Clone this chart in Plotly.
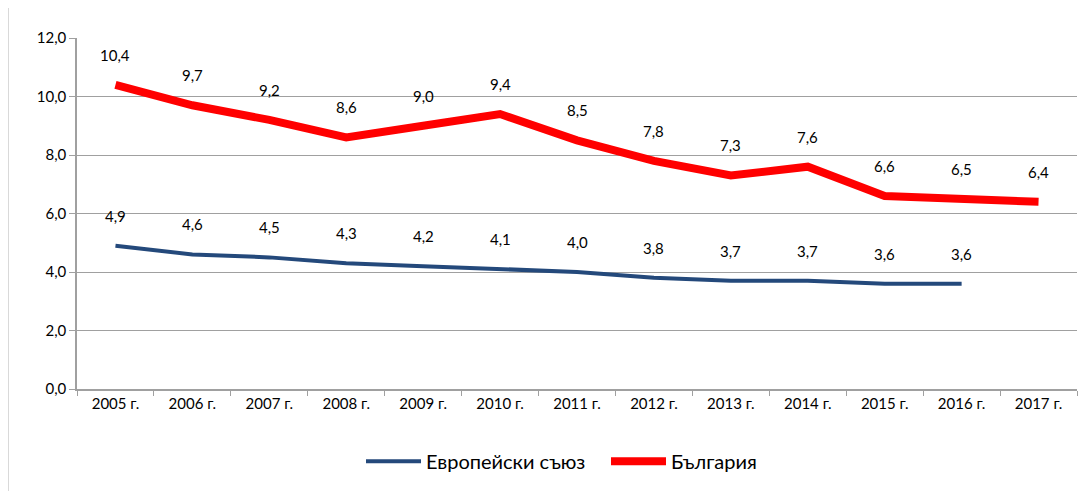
import plotly.graph_objects as go

years = ["2005 г.", "2006 г.", "2007 г.", "2008 г.", "2009 г.", "2010 г.", "2011 г.",
         "2012 г.", "2013 г.", "2014 г.", "2015 г.", "2016 г.", "2017 г."]
eu = [4.9, 4.6, 4.5, 4.3, 4.2, 4.1, 4.0, 3.8, 3.7, 3.7, 3.6, 3.6]
bg = [10.4, 9.7, 9.2, 8.6, 9.0, 9.4, 8.5, 7.8, 7.3, 7.6, 6.6, 6.5, 6.4]

FONT = "Lato"
xi = list(range(len(years)))

fig = go.Figure()
fig.add_trace(go.Scatter(x=xi[:len(eu)], y=eu, mode="lines", name="Европейски съюз",
                         line=dict(color="#24497B", width=4)))
fig.add_trace(go.Scatter(x=xi, y=bg, mode="lines", name="България",
                         line=dict(color="#FF0000", width=8)))

def fmt(v):
    return f"{v:.1f}".replace(".", ",")

for series in (eu, bg):
    for i, v in enumerate(series):
        fig.add_annotation(x=i, y=v, text=fmt(v), showarrow=False, yshift=30,
                           font=dict(family=FONT, size=15, color="#000"))

fig.update_layout(
    width=1083, height=483,
    margin=dict(l=69, r=14, t=30, b=102, autoexpand=False),
    paper_bgcolor="white", plot_bgcolor="white",
    separators=",.",
    font=dict(family=FONT, size=15, color="#000"),
    showlegend=True,
    legend=dict(orientation="h", x=0.529, xanchor="center", y=-0.15, yanchor="top",
                font=dict(family=FONT, size=20), itemwidth=55, traceorder="normal",
                entrywidth=175, entrywidthmode="pixels"),
    xaxis=dict(range=[-0.5, len(years) - 0.5], tickvals=xi, ticktext=years, automargin=False,
               showgrid=False, zeroline=False, showline=True, linecolor="#A0A0A0",
               linewidth=1.5, ticks="", tickfont=dict(size=15),
               minor=dict(tick0=-0.5, dtick=1, ticks="outside", ticklen=5,
                          tickcolor="#A0A0A0", showgrid=False)),
    yaxis=dict(range=[0, 12], dtick=2, tickformat=".1f", showgrid=True, automargin=False,
               gridcolor="#A0A0A0", gridwidth=1, zeroline=False, showline=True,
               linecolor="#A0A0A0", linewidth=1.5, ticks="outside", ticklen=6,
               tickcolor="#A0A0A0", tickfont=dict(size=15)),
)

fig.add_shape(type="line", xref="paper", yref="paper", x0=-0.069, x1=-0.069, y0=-0.3, y1=1.12,
              line=dict(color="#D9D9D9", width=2))

fig.write_html("out.html")
